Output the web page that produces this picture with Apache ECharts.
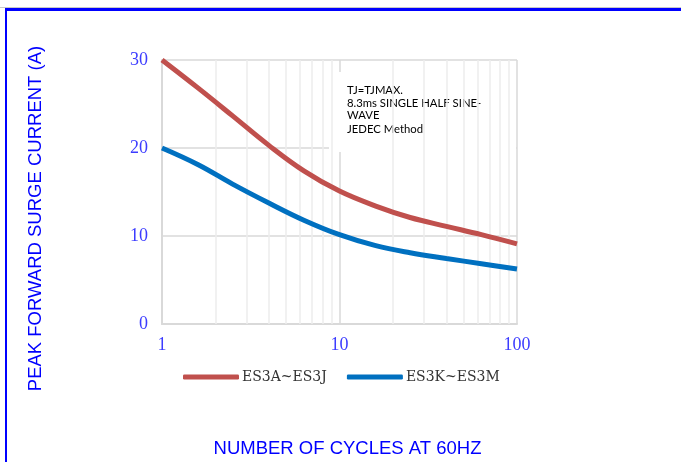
<!DOCTYPE html>
<html><head><meta charset="utf-8">
<script src="https://cdn.jsdelivr.net/npm/echarts@6/dist/echarts.min.js"></script>
<style>html,body{margin:0;padding:0;background:#fff;}#c{width:681px;height:462px;}</style>
</head><body><div id="c"></div>
<script>
const cycles = [1, 1.6, 2.5, 4, 6.3, 10, 16, 25, 40, 63, 100];
const seriesA = [30, 26.8, 23.65, 20.3, 17.4, 15.1, 13.4, 12.1, 11.1, 10.15, 9.1];
const seriesK = [20, 18.1, 15.9, 13.75, 11.8, 10.15, 8.9, 8.1, 7.45, 6.85, 6.25];
const nameA = 'ES3A~ES3J';
const nameK = 'ES3K~ES3M';
const minorX = [2,3,4,5,6,7,8,9,20,30,40,50,60,70,80,90];
const noteLines = ['TJ=TJMAX.', '8.3ms SINGLE HALF SINE-', 'WAVE', 'JEDEC Method'];

const chart = echarts.init(document.getElementById('c'));
const serif = '"Liberation Serif","DejaVu Serif",serif';
const sans = '"Liberation Sans",Arial,sans-serif';
const noteY = [90.5, 103.5, 115.5, 129.5];
chart.setOption({
  animation: false,
  backgroundColor: '#ffffff',
  grid: { left: 162, right: 164, top: 60, bottom: 138, containLabel: false, outerBoundsMode: 'none' },
  legend: {
    data: [nameA, nameK],
    left: 183, top: 370, padding: 0,
    icon: 'roundRect', itemWidth: 56, itemHeight: 5, itemGap: 20,
    textStyle: { fontFamily: '"DejaVu Serif",serif', fontSize: 14, color: '#333333', padding: [0,0,0,-2] }
  },
  xAxis: {
    type: 'log', logBase: 10, min: 1, max: 100,
    name: 'NUMBER OF CYCLES AT 60HZ', nameLocation: 'middle', nameGap: 115,
    nameTextStyle: { fontFamily: sans, fontSize: 18.5, color: '#0000ff', padding: [0,0,0,16] },
    axisLine: { show: true, lineStyle: { color: '#d9d9d9', width: 2 } },
    axisTick: { show: false },
    axisLabel: { fontFamily: serif, fontSize: 18, color: '#3c3cff', margin: 12 },
    splitLine: { show: true, lineStyle: { color: '#d9d9d9', width: 1.5 } }
  },
  yAxis: {
    type: 'value', min: 0, max: 30, interval: 10,
    name: 'PEAK FORWARD SURGE CURRENT (A)', nameLocation: 'middle', nameGap: 117, nameRotate: 90,
    nameTextStyle: { fontFamily: sans, fontSize: 18.5, color: '#0000ff', padding: [0,0,0,-53] },
    axisLine: { show: true, lineStyle: { color: '#d9d9d9', width: 2 } },
    axisTick: { show: false },
    axisLabel: { fontFamily: serif, fontSize: 18, color: '#3c3cff', margin: 14 },
    splitLine: { show: true, lineStyle: { color: '#d9d9d9', width: 1.5 } }
  },
  series: [
    {
      type: 'line', name: '_minor', silent: true, data: [], z: 1,
      markLine: {
        silent: true, symbol: 'none', label: { show: false },
        lineStyle: { color: '#ececec', width: 1.5, type: 'solid' },
        data: minorX.map(v => ({ xAxis: v }))
      }
    },
    {
      type: 'line', name: nameA, smooth: 0.4, showSymbol: false, z: 5,
      data: cycles.map((c, i) => [c, seriesA[i]]),
      lineStyle: { color: '#c0504d', width: 5 }, itemStyle: { color: '#c0504d' }
    },
    {
      type: 'line', name: nameK, smooth: 0.4, showSymbol: false, z: 5,
      data: cycles.map((c, i) => [c, seriesK[i]]),
      lineStyle: { color: '#0070c0', width: 5 }, itemStyle: { color: '#0070c0' }
    }
  ],
  graphic: [
    { type: 'rect', z: 3, shape: { x: 329, y: 72, width: 187, height: 80 }, style: { fill: '#ffffff' } }
  ].concat(noteLines.map((t, i) => ({
    type: 'text', z: 4, x: 347, y: noteY[i],
    style: { text: t, font: '11.3px Lato,"Liberation Sans",sans-serif', fill: '#000000', verticalAlign: 'middle' }
  }))).concat([
    { type: 'rect', z: 10, shape: { x: 0, y: 7, width: 681, height: 1 }, style: { fill: '#c8c8c8' } },
    { type: 'rect', z: 10, shape: { x: 5, y: 8, width: 676, height: 3 }, style: { fill: '#0000ff' } },
    { type: 'rect', z: 10, shape: { x: 5, y: 8, width: 2, height: 454 }, style: { fill: '#0000ff' } }
  ])
});
</script></body></html>
